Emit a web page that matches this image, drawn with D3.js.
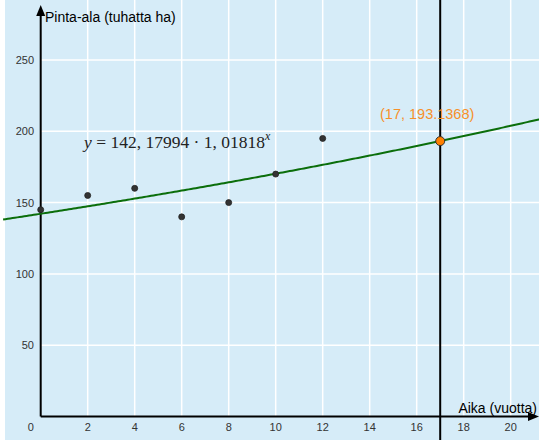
<!DOCTYPE html>
<html>
<head>
<meta charset="utf-8">
<script src="https://cdn.jsdelivr.net/npm/d3@7"></script>
<style>
  html, body { margin: 0; padding: 0; background: #fff; }
  svg { display: block; }
</style>
</head>
<body>
<svg id="chart" width="539" height="440"></svg>
<script>
// Observed area (thousand ha) by year
const years = [0, 2, 4, 6, 8, 10, 12];
const areas = [145, 155, 160, 140, 150, 170, 195];

// Exponential fit y = a * b^x
const fitA = 142.17994;
const fitB = 1.01818;

// Highlighted point on the fitted curve
const markX = [17];
const markY = [193.1368];
const markLabel = ["(17, 193.1368)"];

const xTicks = [0, 2, 4, 6, 8, 10, 12, 14, 16, 18, 20];
const yTicks = [50, 100, 150, 200, 250];
const xGrid = [2, 4, 6, 8, 10, 12, 14, 16, 18, 20];
const xTitle = "Aika (vuotta)";
const yTitle = "Pinta-ala (tuhatta ha)";
const formulaText = "y = 142, 17994 · 1, 01818";

const W = 539, H = 440;
const svg = d3.select("#chart");

const x = d3.scaleLinear().domain([0, 20]).range([40.7, 510.7]);
const y = d3.scaleLinear().domain([0, 250]).range([416.5, 60]);

const left = 5;
const x0 = x(0), y0 = y(0);

// background
svg.append("rect").attr("x", left).attr("y", 0).attr("width", W - left).attr("height", H)
  .attr("fill", "#d6ecf8");

// grid (first quadrant only)
const grid = svg.append("g").attr("stroke", "#ffffff").attr("stroke-width", 1.5);
grid.selectAll("line.v").data(xGrid).join("line")
  .attr("x1", d => x(d)).attr("x2", d => x(d))
  .attr("y1", 0).attr("y2", y0);
grid.selectAll("line.h").data(yTicks).join("line")
  .attr("x1", x0).attr("x2", W)
  .attr("y1", d => y(d)).attr("y2", d => y(d));

// axes
const axisCol = "#000";
svg.append("line").attr("x1", x0).attr("x2", W - 8).attr("y1", y0).attr("y2", y0)
  .attr("stroke", axisCol).attr("stroke-width", 2);
svg.append("path").attr("d", `M${W},${y0} L${W - 11},${y0 - 4.5} L${W - 11},${y0 + 4.5} Z`).attr("fill", axisCol);
svg.append("line").attr("x1", x0).attr("x2", x0).attr("y1", y0).attr("y2", 14)
  .attr("stroke", axisCol).attr("stroke-width", 2);
svg.append("path").attr("d", `M${x0},5 L${x0 - 4.5},16 L${x0 + 4.5},16 Z`).attr("fill", axisCol);

// tick labels
const tickFont = "Liberation Sans, Arial, sans-serif";
svg.append("g").selectAll("text").data(xTicks).join("text")
  .attr("x", d => d === 0 ? x(d) - 10 : x(d))
  .attr("y", 431)
  .attr("text-anchor", "middle")
  .attr("font-family", tickFont).attr("font-size", 11).attr("fill", "#333")
  .text(d => d);
svg.append("g").selectAll("text").data(yTicks).join("text")
  .attr("x", 34)
  .attr("y", d => y(d) + 4)
  .attr("text-anchor", "end")
  .attr("font-family", tickFont).attr("font-size", 11).attr("fill", "#333")
  .text(d => d);

// axis titles
svg.append("text").attr("x", 45).attr("y", 22)
  .attr("font-family", tickFont).attr("font-size", 14).attr("fill", "#000").text(yTitle);
svg.append("text").attr("x", 537).attr("y", 413).attr("text-anchor", "end")
  .attr("font-family", tickFont).attr("font-size", 14).attr("fill", "#000").text(xTitle);

// vertical line at x = 17
svg.append("line").attr("x1", x(markX[0])).attr("x2", x(markX[0]))
  .attr("y1", 0).attr("y2", H).attr("stroke", "#000").attr("stroke-width", 2);

// fitted curve across the whole view
const xs = d3.range(-1.6, 21.5, 0.1);
const line = d3.line().x(d => x(d)).y(d => y(fitA * Math.pow(fitB, d)));
svg.append("path").datum(xs).attr("d", line)
  .attr("fill", "none").attr("stroke", "#0b6e0b").attr("stroke-width", 2);

// data points
svg.append("g").selectAll("circle").data(years.map((d, i) => [d, areas[i]])).join("circle")
  .attr("cx", d => x(d[0])).attr("cy", d => y(d[1])).attr("r", 3)
  .attr("fill", "#333").attr("stroke", "#222").attr("stroke-width", 0.8);

// highlighted point
svg.append("circle").attr("cx", x(markX[0])).attr("cy", y(markY[0])).attr("r", 4.5)
  .attr("fill", "#ff7f00").attr("stroke", "#333").attr("stroke-width", 1);
svg.append("text").attr("x", 380).attr("y", 119)
  .attr("font-family", tickFont).attr("font-size", 14.5).attr("fill", "#f7902a")
  .text(markLabel[0]);

// formula
const f = svg.append("text").attr("x", 84).attr("y", 148)
  .attr("font-family", "Liberation Serif, 'DejaVu Serif', serif").attr("font-size", 17.5).attr("fill", "#222");
f.append("tspan").attr("font-style", "italic").text("y");
f.append("tspan").text(formulaText.slice(1));
f.append("tspan").attr("font-style", "italic").attr("font-size", 12).attr("dy", -8).text("x");
</script>
</body>
</html>
